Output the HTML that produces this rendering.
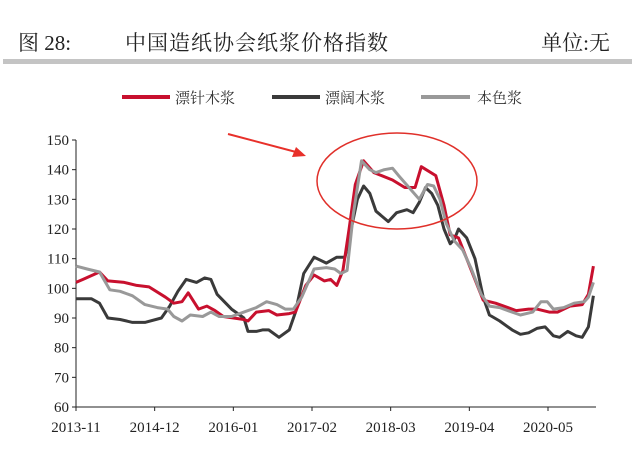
<!DOCTYPE html>
<html><head><meta charset="utf-8"><style>
body{margin:0;background:#fff;width:640px;height:453px;overflow:hidden}
svg{display:block}
text{font-family:"Liberation Serif","Noto Serif CJK SC","Noto Sans CJK SC",serif}
</style></head><body>
<svg id="s" width="640" height="453" xmlns="http://www.w3.org/2000/svg">
<text x="18" y="50" font-size="21" fill="#222">图 28:</text>
<text x="125" y="50" font-size="21" fill="#222" letter-spacing="1">中国造纸协会纸浆价格指数</text>
<text x="610" y="50" font-size="21" fill="#222" text-anchor="end">单位:无</text>
<rect x="3" y="59" width="629" height="5" fill="#c4c4c4"/>
<line x1="122" y1="97" x2="170" y2="97" stroke="#c8102e" stroke-width="4"/>
<text x="175" y="103" font-size="15" fill="#333">漂针木浆</text>
<line x1="272" y1="97" x2="320" y2="97" stroke="#3a3a3a" stroke-width="4"/>
<text x="325" y="103" font-size="15" fill="#333">漂阔木浆</text>
<line x1="421" y1="97" x2="470" y2="97" stroke="#999" stroke-width="4"/>
<text x="477" y="103" font-size="15" fill="#333">本色浆</text>
<g id="ax" font-size="15" fill="#222"></g>
<g id="ln" fill="none" stroke-width="3" stroke-linejoin="round"></g>
<ellipse cx="397" cy="181" rx="80" ry="48" fill="none" stroke="#e0302a" stroke-width="1.5"/>
<line x1="228" y1="134" x2="296" y2="152" stroke="#e8302a" stroke-width="2"/>
<polygon points="306,156 292,157 296,147" fill="#e8302a"/>
</svg>
<script>
var NS="http://www.w3.org/2000/svg";
function X(zx){return 76+(zx-183)*(548-76)/(1327-183);}
function Y(v){return 407-(v-60)*(267/90);}
var ax=document.getElementById('ax'),ln=document.getElementById('ln');
function el(t,a,p,txt){var e=document.createElementNS(NS,t);for(var k in a)e.setAttribute(k,a[k]);if(txt)e.textContent=txt;p.appendChild(e);return e;}
el('line',{x1:76,y1:140,x2:76,y2:407,stroke:'#222','stroke-width':1},ax);
el('line',{x1:76,y1:407,x2:596,y2:407,stroke:'#222','stroke-width':1},ax);
for(var v=60;v<=150;v+=10){var y=Y(v);el('line',{x1:72,y1:y,x2:76,y2:y,stroke:'#222'},ax);el('text',{x:69,y:y+5,'text-anchor':'end'},ax,String(v));}
var lab=['2013-11','2014-12','2016-01','2017-02','2018-03','2019-04','2020-05'];
for(var i=0;i<7;i++){var x=76+i*(548-76)/6;el('line',{x1:x,y1:407,x2:x,y2:411,stroke:'#222'},ax);el('text',{x:x,y:432,'text-anchor':'middle'},ax,lab[i]);}
function draw(pts,c){var d='';for(var i=0;i<pts.length;i+=2)d+=(i?'L':'M')+X(pts[i]).toFixed(1)+','+Y(pts[i+1]).toFixed(1);el('path',{d:d,stroke:c},ln);}
draw([183,96.5,220,96.5,240,95,260,90,290,89.5,320,88.5,350,88.5,390,90,410,94,430,99,450,103,475,102,495,103.5,510,103,525,98,560,93,590,90,600,85.5,620,85.5,635,86,650,86,675,83.5,700,86,715,92,735,105,760,110.5,790,108.5,815,110.5,835,110.5,850,120,865,130,880,134.5,895,132,910,126,940,122.5,960,125.5,985,126.5,1000,125.5,1015,129,1030,134,1045,132,1060,128,1075,120,1090,115,1100,116.5,1110,120,1130,117,1150,110,1170,97,1185,91,1210,89,1240,86,1260,84.5,1280,85,1300,86.5,1320,87,1340,84,1355,83.5,1375,85.5,1395,84,1410,83.5,1425,87,1437,97.5],'#3a3a3a');
draw([183,102,200,103,240,105.5,260,102.5,300,102,330,101,360,100.5,400,97,420,95,440,95.5,455,98.5,480,93,500,94,520,92.5,540,90.5,565,90,590,89.5,600,89,620,92,650,92.5,670,91,700,91.5,715,92,740,101,760,104.5,785,102.5,800,103,815,101,830,106,845,120,860,135,880,143,905,139,950,136.5,980,134,1005,134,1020,141,1055,138,1075,128,1090,118,1110,117,1130,110,1170,96,1200,95,1250,92.5,1280,93,1300,93,1330,92,1350,92,1380,94,1410,94.5,1425,98,1437,107.5],'#c8102e');
draw([183,107.5,210,106.5,240,105.5,265,99.5,290,99,320,97.5,350,94.5,380,93.5,405,93,420,90.5,440,89,460,91,490,90.5,510,92,530,90.5,560,90.5,590,92,620,93.5,645,95.5,670,94.5,690,93,710,93,730,97,760,106.5,790,107,810,106.5,825,105,840,106,855,125,875,143,895,140,910,139,930,140,950,140.5,965,138,990,134,1015,130,1035,135,1050,134.5,1065,130,1080,122,1100,116,1120,113,1140,107,1165,98,1185,94,1210,93.5,1240,92,1260,91,1290,92,1310,95.5,1325,95.5,1340,93,1365,93.5,1390,95,1415,95.5,1425,97,1437,102],'#999');
</script>
</body></html>
